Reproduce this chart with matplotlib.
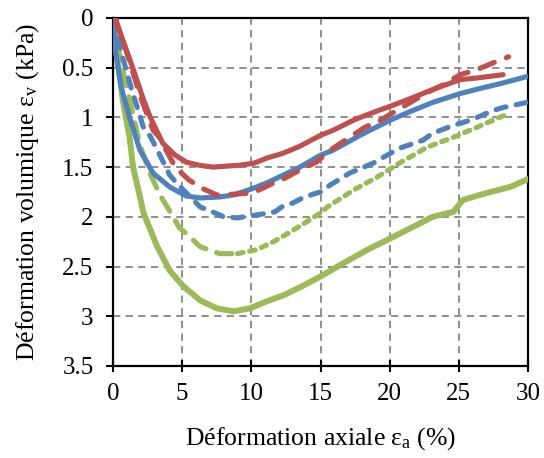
import matplotlib
matplotlib.use("Agg")
import matplotlib.pyplot as plt
from matplotlib.ticker import FuncFormatter

plt.rcParams['font.family'] = ['Liberation Serif', 'DejaVu Serif']
plt.rcParams['mathtext.fontset'] = 'custom'
plt.rcParams['mathtext.rm'] = 'Liberation Serif'
plt.rcParams['mathtext.it'] = 'Liberation Serif:italic'

# ---- data ----
red_solid_x = [0.15, 0.6, 1.4, 2.2, 2.7, 3.6, 4.5, 5.3, 6.2, 7.2, 8.2, 9.2, 10.2, 11.1, 12.3,
               13.5, 15.0, 15.9, 17.5, 19.0, 20.0, 21.5, 23.1, 25.1, 26.5, 28.2]
red_solid_y = [0.0, 0.18, 0.49, 0.82, 1.0, 1.26, 1.38, 1.45, 1.48, 1.50, 1.49, 1.48, 1.46, 1.41, 1.36,
               1.29, 1.18, 1.13, 1.02, 0.94, 0.89, 0.81, 0.72, 0.62, 0.60, 0.57]

red_dash_x = [0.15, 1.0, 2.0, 2.9, 3.3, 4.5, 5.5, 6.4, 7.5, 9.0, 10.1, 11.6, 12.3, 13.5, 14.7,
              15.9, 17.0, 18.2, 19.3, 21.0, 22.7, 23.9, 25.1, 26.3, 27.5, 28.6]
red_dash_y = [0.0, 0.35, 0.8, 1.13, 1.19, 1.5, 1.63, 1.71, 1.78, 1.77, 1.76, 1.66, 1.62, 1.53, 1.45,
              1.31, 1.21, 1.10, 1.03, 0.89, 0.75, 0.67, 0.57, 0.52, 0.45, 0.39]

blue_solid_x = [0.0, 0.2, 0.6, 1.2, 1.95, 2.9, 4.1, 5.3, 6.3, 7.7, 8.7, 10.0, 11.1, 12.3, 13.5,
                15.0, 15.9, 18.0, 20.0, 21.5, 23.1, 25.1, 26.5, 28.0, 29.9]
blue_solid_y = [0.0, 0.35, 0.7, 1.0, 1.33, 1.56, 1.70, 1.79, 1.81, 1.80, 1.78, 1.72, 1.66, 1.58, 1.50,
                1.38, 1.33, 1.17, 1.03, 0.94, 0.85, 0.76, 0.71, 0.66, 0.59]

blue_dash_x = [0.1, 0.6, 1.35, 2.2, 2.7, 3.5, 4.1, 4.6, 5.8, 6.3, 7.2, 8.0, 9.0, 10.4, 11.7, 12.2,
               13.0, 13.7, 14.5, 15.0, 15.7, 17.1, 18.8, 20.7, 22.4, 23.1, 24.6, 25.8, 27.5, 28.2, 29.9]
blue_dash_y = [0.0, 0.35, 0.72, 1.1, 1.19, 1.41, 1.58, 1.66, 1.83, 1.9, 1.95, 2.0, 2.01, 1.98, 1.95, 1.90,
               1.86, 1.81, 1.77, 1.75, 1.68, 1.56, 1.46, 1.31, 1.23, 1.16, 1.08, 1.03, 0.93, 0.90, 0.85]

green_solid_x = [0.0, 0.3, 0.7, 1.2, 1.45, 1.95, 2.2, 3.2, 4.1, 5.1, 6.3, 7.5, 8.7, 9.9, 11.1, 12.3,
                 13.5, 15.0, 16.6, 18.4, 20.0, 21.7, 23.1, 24.6, 25.3, 27.0, 28.7, 30.0]
green_solid_y = [0.0, 0.4, 0.82, 1.2, 1.5, 1.8, 1.96, 2.3, 2.54, 2.7, 2.84, 2.92, 2.95, 2.92, 2.85, 2.79,
                 2.71, 2.6, 2.47, 2.33, 2.22, 2.1, 2.0, 1.95, 1.83, 1.76, 1.7, 1.62]

green_dash_x = [0.1, 0.5, 1.2, 1.95, 2.7, 3.4, 4.0, 4.8, 5.4, 6.3, 7.7, 9.0, 10.4, 11.6, 12.6, 14.0,
                15.0, 15.5, 17.4, 19.1, 20.7, 22.7, 24.6, 26.3, 28.6]
green_dash_y = [0.0, 0.4, 0.82, 1.28, 1.57, 1.78, 1.92, 2.11, 2.18, 2.3, 2.37, 2.37, 2.33, 2.25, 2.17, 2.05,
                1.96, 1.9, 1.73, 1.6, 1.46, 1.3, 1.2, 1.1, 0.96]

x_ticks = [0, 5, 10, 15, 20, 25, 30]
y_ticks = [0, 0.5, 1, 1.5, 2, 2.5, 3, 3.5]

RED = '#C0504D'
BLUE = '#4F81BD'
GREEN = '#9BBB59'

fig = plt.figure(figsize=(5.44, 4.58), dpi=100)
ax = fig.add_axes([113/544, 1-366/458, (528-113)/544, (366-18)/458])

lw = 3.7
ax.plot(green_solid_x, green_solid_y, color=GREEN, lw=4.3, solid_capstyle='round', zorder=3)
split = 12
ax.plot(green_dash_x[:split], green_dash_y[:split], color=GREEN, lw=lw,
        linestyle=(0, (3.0, 2.2)), dash_capstyle='round', zorder=3)
ax.plot(green_dash_x[split - 1:], green_dash_y[split - 1:], color=GREEN, lw=lw,
        linestyle=(0, (1.1, 1.3)), dash_capstyle='round', zorder=3)
ax.plot(blue_dash_x, blue_dash_y, color=BLUE, lw=lw,
        linestyle=(0, (2.0, 2.0)), dash_capstyle='round', zorder=4)
ax.plot(blue_solid_x, blue_solid_y, color=BLUE, lw=lw, solid_capstyle='round', zorder=4)
ax.plot(red_dash_x, red_dash_y, color=RED, lw=lw,
        linestyle=(0, (3.0, 2.5)), dash_capstyle='round', zorder=5)
ax.plot(red_solid_x, red_solid_y, color=RED, lw=lw, solid_capstyle='round', zorder=5)

ax.set_xlim(0, 30)
ax.set_ylim(3.5, 0)
ax.set_xticks(x_ticks)
ax.set_yticks(y_ticks)
ax.yaxis.set_major_formatter(FuncFormatter(lambda v, p: '%g' % v))

ax.grid(True, color='#868686', linestyle=(0, (4, 3)), linewidth=1.3, zorder=1)
ax.set_axisbelow(True)
for s in ax.spines.values():
    s.set_linewidth(1.6)
    s.set_color('black')

ax.tick_params(axis='x', direction='inout', length=9, width=1.5, labelsize=18, pad=8)
ax.tick_params(axis='y', direction='out', length=5, width=1.5, labelsize=18, pad=9)

ax.set_xlabel('Déformation axiale ε$_{\\mathrm{a}}$ (%)', fontsize=18.5, labelpad=14)
ax.set_ylabel('Déformation volumique ε$_{\\mathrm{v}}$ (kPa)', fontsize=18.5, labelpad=15)

fig.savefig('out.png', dpi=100)
